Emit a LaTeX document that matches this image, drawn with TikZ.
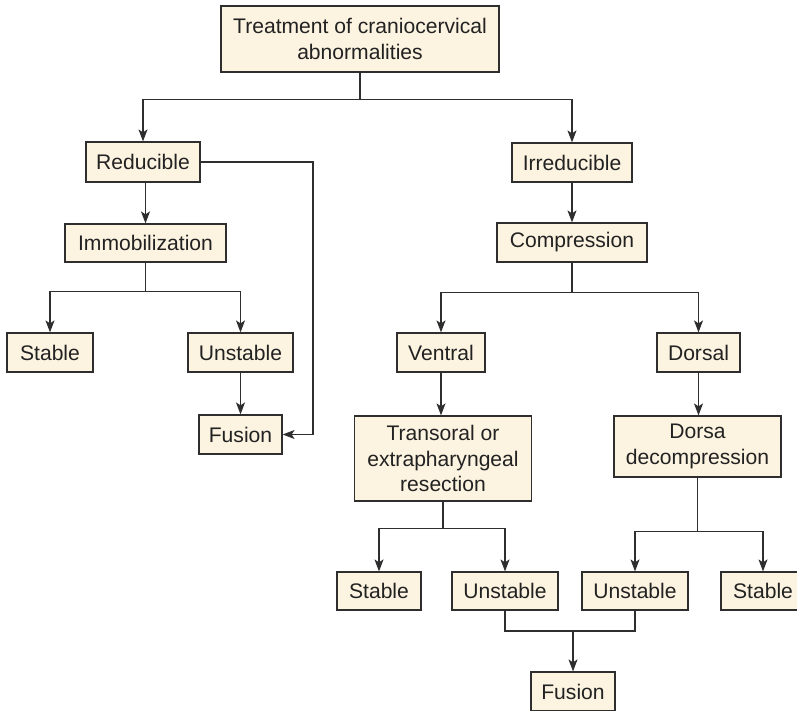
\documentclass[tikz,border=0pt]{standalone}
\usepackage{fontspec}
\setmainfont{Liberation Sans}
\usetikzlibrary{arrows.meta}
\definecolor{boxfill}{HTML}{FCF3E0}
\definecolor{linec}{HTML}{2E2E2E}
\definecolor{txtc}{HTML}{222222}
\tikzset{
  box/.style={draw=linec, fill=boxfill, line width=1.2pt, inner sep=0pt,
    align=center, text=txtc, font=\fontsize{21.1}{25.8}\selectfont},
  conn/.style={draw=linec, line width=1.2pt},
  arr/.style={conn, -{Stealth[length=12pt, width=9pt, inset=3pt]}}
}
\begin{document}
\begin{tikzpicture}[x=1pt, y=-1pt]
\clip (0,0) rectangle (797,711);
\fill[white] (0,0) rectangle (797,711);
% nodes
\node[box, minimum width=278pt, minimum height=66pt] (top) at (360,39) {Treatment of craniocervical\\abnormalities};
\node[box, minimum width=114pt, minimum height=40pt] (red) at (143,162) {Reducible};
\node[box, minimum width=120pt, minimum height=39pt] (irr) at (572,162.5) {Irreducible};
\node[box, minimum width=161pt, minimum height=38pt] (imm) at (145.5,243) {Immobilization};
\node[box, minimum width=150pt, minimum height=39pt] (comp) at (572,242.5) {Compression};
\node[box, minimum width=86pt, minimum height=39pt] (st1) at (50,352.5) {Stable};
\node[box, minimum width=105pt, minimum height=39pt] (un1) at (240.5,352.5) {Unstable};
\node[box, minimum width=83pt, minimum height=39pt] (fu1) at (240.5,434.5) {Fusion};
\node[box, minimum width=88pt, minimum height=39pt] (ven) at (441,352.5) {Ventral};
\node[box, minimum width=83pt, minimum height=39pt] (dor) at (698.5,352.5) {Dorsal};
\node[box, minimum width=177pt, minimum height=85pt] (tra) at (443,458.5) {Transoral or\\extrapharyngeal\\resection};
\node[box, minimum width=167pt, minimum height=61pt] (dd) at (697.5,446.5) {Dorsa\\decompression};
\node[box, minimum width=84pt, minimum height=38pt] (st2) at (379,591) {Stable};
\node[box, minimum width=106pt, minimum height=38pt] (un2) at (505,591) {Unstable};
\node[box, minimum width=106pt, minimum height=38pt] (un3) at (635,591) {Unstable};
\node[box, minimum width=84pt, minimum height=38pt] (st3) at (763,591) {Stable};
\node[box, minimum width=84pt, minimum height=39pt] (fu2) at (573,691.5) {Fusion};
% helper coordinates
\coordinate (rr) at (313,0);
\coordinate (j6) at (573,631);
% connectors
\draw[arr] (top.south) -- ++(0,27) -| (red.north);
\draw[arr] (top.south) -- ++(0,27) -| (irr.north);
\draw[arr] (imm.north |- red.south) -- (imm.north);
\draw[arr] (irr) -- (comp);
\draw[arr] (imm.south) -- ++(0,29) -| (st1.north);
\draw[arr] (imm.south) -- ++(0,29) -| (un1.north);
\draw[arr] (un1) -- (fu1);
\draw[arr] (red.east) -- (red.east -| rr) |- (fu1.east);
\draw[arr] (comp.south) -- ++(0,29.5) -| (ven.north);
\draw[arr] (comp.south) -- ++(0,29.5) -| (dor.north);
\draw[arr] (ven.south) -- (ven.south |- tra.north);
\draw[arr] (dor.south) -- (dor.south |- dd.north);
\draw[arr] (tra.south) -- ++(0,27) -| (st2.north);
\draw[arr] (tra.south) -- ++(0,27) -| (un2.north);
\draw[arr] (dd.south) -- ++(0,54) -| (un3.north);
\draw[arr] (dd.south) -- ++(0,54) -| (st3.north);
\draw[conn] (un2.south) |- (j6) -| (un3.south);
\draw[arr] (j6) -- (fu2.north);
\end{tikzpicture}
\end{document}
